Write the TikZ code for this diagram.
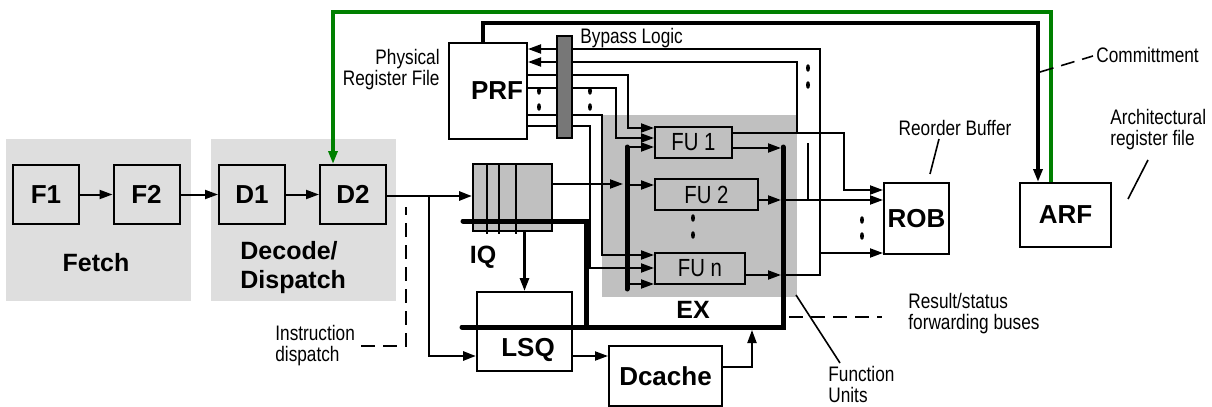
\documentclass[tikz,border=0pt]{standalone}
\usepackage{fontspec}
\setmainfont{Liberation Sans}
\newfontfamily\narrowfont[FakeStretch=0.82]{Liberation Sans}
\usepackage{tikz}
\usetikzlibrary{arrows.meta, calc, positioning}

\definecolor{stagegray}{HTML}{DEDEDE}
\definecolor{exgray}{HTML}{C0C0C0}
\definecolor{bypgray}{HTML}{777777}
\definecolor{commitgreen}{HTML}{008000}

\begin{document}
\begin{tikzpicture}[x=0.5pt, y=-0.5pt, >={Triangle[length=6.5pt, width=4.5pt]},
    blk/.style={draw, line width=1pt, inner sep=0pt, font=\fontsize{13}{15}\selectfont\bfseries},
    fu/.style={draw, line width=1pt, inner sep=0pt, minimum height=15.5pt, font=\fontsize{12.4}{14}\narrowfont},
    stagebg/.style={fill=stagegray, minimum width=92.5pt, minimum height=81pt, inner sep=0pt},
    stage/.style={font=\fontsize{12.5}{14.5}\selectfont\bfseries, align=left, inner sep=0pt},
    note/.style={font=\fontsize{10.5}{10.5}\narrowfont, inner sep=0pt},
    wire/.style={line width=1pt},
    feed/.style={line width=1.4pt},
    bus/.style={line width=2.5pt, line cap=round},
    lead/.style={line width=0.8pt},
    leaddash/.style={line width=0.8pt, dash pattern=on 7pt off 4pt},
    elide/.style={fill=black}]
    \useasboundingbox (0,0) rectangle (1212,407);

    % Pipeline stages
    \node[stagebg] (S_FETCH) at (98.5,220) {};
    \node[stagebg] (S_DEC) at (303.5,220) {};
    \node[fill=exgray, minimum width=97.5pt, minimum height=91pt, inner sep=0pt] (S_EX) at (699.5,206) {};

    \node[blk, minimum width=33pt, minimum height=29.5pt] (B_F1) at (46,194.5) {F1};
    \node[blk, minimum width=33pt, minimum height=29.5pt] (B_F2) at (146.5,194.5) {F2};
    \node[blk, minimum width=33pt, minimum height=29.5pt] (B_D1) at (252,194.5) {D1};
    \node[blk, minimum width=33pt, minimum height=29.5pt] (B_D2) at (353,194.5) {D2};
    \node[stage] (T_FETCH) at (96,263) {Fetch};
    \node[stage, anchor=west] (T_DEC) at (240,267.5) {Decode/\\Dispatch};

    % Register files, queues, units
    \node[blk, minimum width=39pt, minimum height=48pt] (B_PRF) at (488,91) {\hspace*{9pt}PRF};
    \node[blk, fill=exgray, minimum width=39.5pt, minimum height=33.5pt] (B_IQ) at (512.5,197.5) {};
    \node[blk, minimum width=47.5pt, minimum height=39.5pt,
        label={[font=\fontsize{13}{15}\selectfont\bfseries, inner sep=0pt, xshift=1.75pt, yshift=-9.25pt]center:LSQ}] (B_LSQ) at (524.5,331.5) {};
    \node[blk, minimum width=56.5pt, minimum height=30pt] (B_DC) at (665.5,376) {Dcache};
    \node[fu, minimum width=38.5pt] (B_FU1) at (693.5,142.5) {FU 1};
    \node[fu, minimum width=51.5pt] (B_FU2) at (706.5,194.5) {FU 2};
    \node[fu, minimum width=45pt] (B_FUN) at (700,268.5) {FU n};
    \node[blk, minimum width=32.5pt, minimum height=35.5pt] (B_ROB) at (916.5,218.5) {ROB};
    \node[blk, minimum width=45.5pt, minimum height=32pt] (B_ARF) at (1065.5,215) {ARF};
    \node[stage] (T_IQ) at (483,257) {IQ};
    \node[stage] (T_EX) at (693,310) {EX};
    \foreach \dx in {15,27,44}
        \draw[wire] ($(B_IQ.north west)+(\dx,0)$) -- ($(B_IQ.south west)+(\dx,2)$);

    % Notes
    \node[note, anchor=east, align=right] (T_PRF) at (440,70) {Physical\\Register File};
    \node[note, anchor=west] (T_BYP) at (580,38) {Bypass Logic};
    \node[note, anchor=west] (T_CMT) at (1096,55) {Committment};
    \node[note] (T_ROB) at (955,128) {Reorder Buffer};
    \node[note, anchor=west, align=left] (T_ARF) at (1110,130) {Architectural\\register file};
    \node[note, anchor=west, align=left] (T_RES) at (908,314) {Result/status\\forwarding buses};
    \node[note, anchor=west, align=left] (T_FUS) at (828,384) {Function\\Units};
    \node[note, anchor=west, align=left] (T_IDSP) at (275,346) {Instruction\\dispatch};

    \coordinate (C_SPLIT) at (429,196);
    \coordinate (C_IDSP) at (406,207);
    \coordinate (C_BT) at (627,147);
    \coordinate (C_BB) at (627,284);
    \coordinate (C_BQ) at (623,184);

    % Fetch and dispatch
    \draw[wire, ->] (B_F1) -- (B_F2); \draw[wire, ->] (B_F2) -- (B_D1); \draw[wire, ->] (B_D1) -- (B_D2);
    \draw[feed, ->] (B_D2.east |- C_SPLIT) -- (C_SPLIT -| B_IQ.west);
    \draw[feed, ->] (C_SPLIT) |- (B_LSQ.west |- 0,356);
    \draw[leaddash] ($(T_IDSP.east)+(6,0)$) -| (C_IDSP);

    % Issue
    \draw[wire, ->] (B_IQ.east |- C_BQ) -- (C_BQ);
    \draw[feed, ->] (B_IQ.south -| B_LSQ.north) -- (B_LSQ.north);
    \draw[bus] (C_BT) -- (627,289);
    \draw[wire, ->] (C_BT) -- (B_FU1.west |- C_BT);
    \draw[wire, ->] (C_BT |- 0,185) -- (B_FU2.west |- 0,185);
    \draw[wire, ->] (C_BB) -- (B_FUN.west |- C_BB);

    % Operands from the PRF
    \draw[wire, ->] (B_PRF.east |- 0,75) -| (628,128) -- (B_FU1.west |- 0,128);
    \draw[wire, ->] (B_PRF.east |- 0,88) -| (616,138) -- (B_FU1.west |- 0,138);
    \draw[wire, ->] (B_PRF.east |- 0,115) -| (602,255) -- (B_FUN.west |- 0,255);
    \draw[wire, ->] (B_PRF.east |- 0,126) -| (590,268) -- (B_FUN.west |- 0,268);

    % Results
    \draw[wire, ->] (B_FU1.east |- 0,133) -| (844,190) -- (B_ROB.west |- 0,190);
    \draw[wire, ->] (B_FU1.east |- 0,148) -- (781,148);
    \draw[wire, ->] (B_FU2.east |- 0,200) -- (781,200); \draw[wire, ->] (783,200) -- (B_ROB.west |- 0,200);
    \draw[wire, ->] (B_FUN.east |- 0,275) -- (781,275);
    \draw[wire, ->] (783,275) -| (820,49) -- (B_PRF.east |- 0,49);
    \draw[wire, ->] (820,253) -- (B_ROB.west |- 0,253);
    \draw[wire, ->] (797,133) |- (B_PRF.east |- 0,62);
    \draw[wire] (808,200) -- (808,143);

    % Buses
    \draw[bus] (463,221) -| (586,327);
    \draw[bus] (462,327) -| (783,147);

    % Memory
    \draw[wire, ->] (B_LSQ.east |- 0,356) -- (B_DC.west |- 0,356);
    \draw[wire, ->] (B_DC.east |- 0,367) -| (752,330);

    % Bypass logic over the operand wires
    \node[draw, fill=bypgray, line width=1pt, minimum width=7.5pt, minimum height=51pt, inner sep=0pt] (B_BYP) at (564.5,87) {};

    % Elided wires
    \foreach \x/\y in {539/91, 539/107, 590/91, 590/107, 808/68, 808/85, 693/218, 693/235, 862/220, 862/236}
        \fill[elide] (\x,\y) ellipse [x radius=1pt, y radius=1.9pt];

    % Commit and redirect
    \draw[line width=2.1pt, ->] (483,0 |- B_PRF.north) |- (1038,23) -- (1038,0 |- B_ARF.north);
    \draw[line width=1.6pt, draw=commitgreen, -{Triangle[length=6.5pt, width=4.5pt]}, commitgreen]
        (1051,0 |- B_ARF.north) |- (333,12) -- (333,0 |- B_D2.north);

    % Leaders
    \draw[leaddash] (1040,72) -- (1093,56);
    \draw[lead] (930,174) -- (939,139);
    \draw[lead] (1128,199) -- (1148,160);
    \draw[leaddash] (789,317) -- (882,317);
    \draw[lead] (796,295) -- (840,363);
\end{tikzpicture}
\end{document}
